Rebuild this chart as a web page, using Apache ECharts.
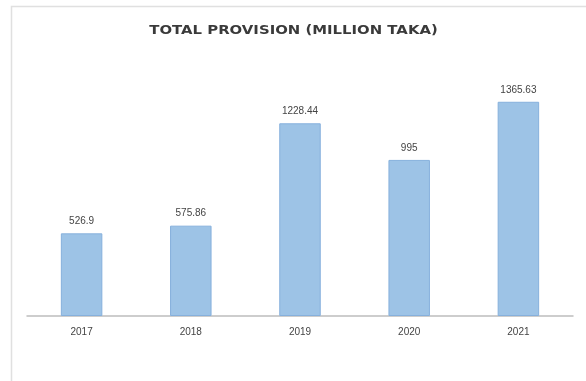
<!DOCTYPE html>
<html>
<head>
<meta charset="utf-8">
<script src="https://cdn.jsdelivr.net/npm/echarts@6/dist/echarts.min.js"></script>
<style>
  html, body { margin: 0; padding: 0; background: #ffffff; }
  #chart { width: 586px; height: 381px; }
</style>
</head>
<body>
<div id="chart"></div>
<script>
// Total provision by year, in million taka
const years = ['2017', '2018', '2019', '2020', '2021'];
const provision = [526.9, 575.86, 1228.44, 995, 1365.63];
const valueLabels = ['526.9', '575.86', '1228.44', '995', '1365.63'];
const titleText = 'TOTAL PROVISION (MILLION TAKA)';

const chart = echarts.init(document.getElementById('chart'), null, { renderer: 'canvas' });

chart.setOption({
  animation: false,
  backgroundColor: '#ffffff',
  graphic: [
    {
      // outer frame of the chart area
      type: 'rect',
      shape: { x: 11.5, y: 6.5, width: 600, height: 400 },
      style: { fill: 'none', stroke: '#e0e0e0', lineWidth: 1.5 },
      silent: true
    },
    {
      // wide, tracked-out heading
      type: 'text',
      x: 293.5,
      y: 31,
      scaleX: 1.24,
      style: {
        text: titleText,
        fontFamily: 'DejaVu Sans',
        fontWeight: 'bold',
        fontSize: 12,
        fill: '#3a3a3a',
        textAlign: 'center',
        textVerticalAlign: 'middle'
      },
      silent: true
    }
  ],
  grid: { left: 27, right: 13, top: 65, bottom: 65 },
  xAxis: {
    type: 'category',
    data: years,
    axisLine: { lineStyle: { color: '#bdbdbd', width: 1.5 } },
    axisTick: { show: false },
    axisLabel: {
      color: '#444',
      fontFamily: 'Liberation Sans',
      fontSize: 10,
      margin: 11
    }
  },
  yAxis: {
    type: 'value',
    min: 0,
    max: 1600,
    show: false,
    splitLine: { show: false }
  },
  series: [{
    type: 'bar',
    data: provision,
    barWidth: '38%',
    itemStyle: {
      color: '#9dc3e6',
      borderColor: '#86b0dc',
      borderWidth: 1
    },
    label: {
      show: true,
      position: 'top',
      distance: 7,
      color: '#444',
      fontFamily: 'Liberation Sans',
      fontSize: 10,
      formatter: (p) => valueLabels[p.dataIndex]
    }
  }]
});
</script>
</body>
</html>
